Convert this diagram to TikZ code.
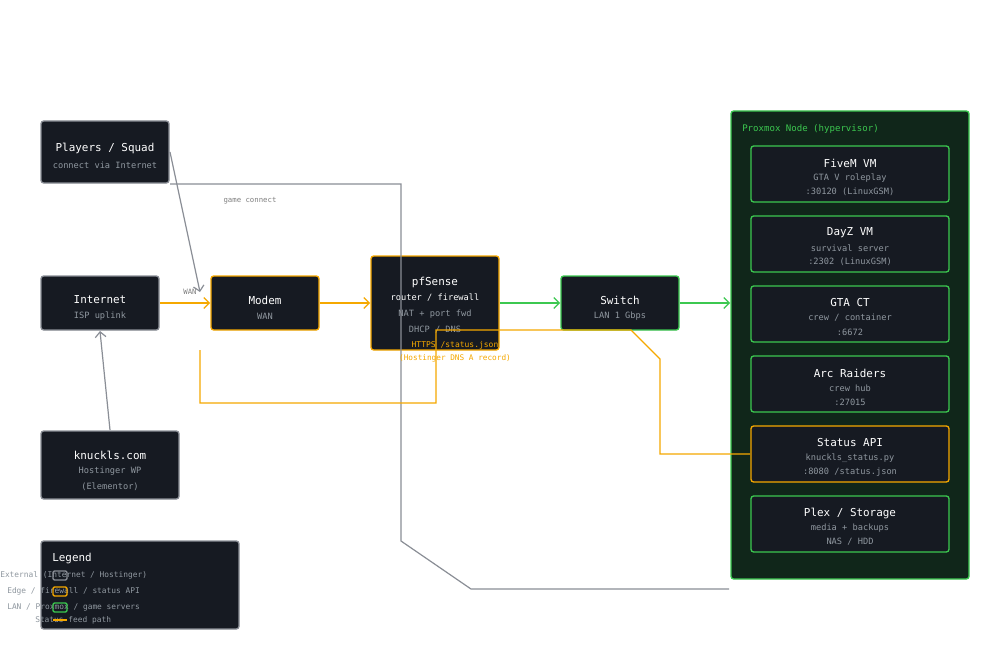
\documentclass[tikz,border=0pt]{standalone}
\usepackage{fontspec}
\setmainfont{DejaVu Sans Mono}
\usetikzlibrary{arrows.meta}
\definecolor{boxbg}{HTML}{161A22}
\definecolor{gbox}{HTML}{8A8E96}
\definecolor{obox}{HTML}{F5A800}
\definecolor{lbox}{HTML}{3CC850}
\definecolor{pxbg}{HTML}{10261A}
\definecolor{subtxt}{HTML}{9098A0}
\tikzset{
  box/.style={draw, line width=1pt, fill=boxbg, rounded corners=2pt, inner sep=0pt},
  ttl/.style={text=white, font=\fontsize{8.2}{9}\selectfont},
  sub/.style={text=subtxt, font=\fontsize{6.5}{7}\selectfont},
  leg/.style={text=subtxt, anchor=west, inner sep=0pt, font=\fontsize{5.9}{7}\selectfont},
  ext/.style={box, draw=gbox},
  edge/.style={box, draw=obox},
  lan/.style={box, draw=lbox},
  arr/.style={-{Straight Barb[length=4pt]}, line width=.9pt},
}
\begin{document}
\begin{tikzpicture}[x=0.75pt, y=-0.75pt]
\useasboundingbox[fill=white] (0,0) rectangle (1000,660);
% proxmox node
\draw[draw=lbox, fill=pxbg, line width=1pt, rounded corners=2pt] (731,111) rectangle (969,579);
\node[anchor=west, inner sep=0pt, text=lbox, font=\fontsize{6.8}{8}\selectfont] (pxlbl) at (742,129) {Proxmox Node (hypervisor)};
% boxes
\draw[ext] (41,121) rectangle (169,183);
\node[ttl] (players) at (105,148) {Players / Squad};
\node[sub] at (105,165) {connect via Internet};
\draw[ext] (41,276) rectangle (159,330);
\node[ttl] (internet) at (100,300) {Internet};
\node[sub] at (100,316) {ISP uplink};
\draw[ext] (41,431) rectangle (179,499);
\node[ttl] (knuckls) at (110,455) {knuckls.com};
\node[sub] at (110,471) {Hostinger WP};
\node[sub] at (110,487) {(Elementor)};
\draw[edge] (211,276) rectangle (319,330);
\node[ttl] (modem) at (265,300) {Modem};
\node[sub] at (265,316) {WAN};
\draw[edge] (371,256) rectangle (499,350);
\node[ttl] (pfsense) at (435,282) {pfSense};
\node[text=white, font=\fontsize{6.5}{7}\selectfont] at (435,298) {router / firewall};
\node[sub] at (435,314) {NAT + port fwd};
\node[sub] at (435,330) {DHCP / DNS};
\draw[lan] (561,276) rectangle (679,330);
\node[ttl] (switch) at (620,300) {Switch};
\node[sub] at (620,316) {LAN 1 Gbps};
\foreach \y/\t/\a/\b/\s in {146/{FiveM VM}/{GTA V roleplay}/{:30120 (LinuxGSM)}/lan,
  216/{DayZ VM}/{survival server}/{:2302 (LinuxGSM)}/lan,
  286/{GTA CT}/{crew / container}/{:6672}/lan,
  356/{Arc Raiders}/{crew hub}/{:27015}/lan,
  426/{Status API}/{knuckls\_status.py}/{:8080 /status.json}/edge,
  496/{Plex / Storage}/{media + backups}/{NAS / HDD}/lan} {
  \draw[\s] (751,\y) rectangle (949,\y+56);
  \node[ttl] at (850,\y+17) {\t};
  \node[sub] at (850,\y+32) {\a};
  \node[sub] at (850,\y+46) {\b};
}
\coordinate (api) at (750,454);
% legend
\draw[ext] (41,541) rectangle (239,629);
\node[ttl, anchor=west, inner sep=0pt] (legend) at (52,559) {Legend};
\node[leg] at (0,575) {External (Internet / Hostinger)};
\node[leg] at (7,591) {Edge / firewall / status API};
\node[leg] at (7,607) {LAN / Proxmox / game servers};
\node[leg] at (35,620) {Status feed path};
\draw[gbox, line width=1pt, rounded corners=1pt] (53,571) rectangle (67,580);
\draw[obox, line width=1pt, rounded corners=1pt] (53,587) rectangle (67,596);
\draw[lbox, line width=1pt, rounded corners=1pt] (53,603) rectangle (67,612);
\draw[obox, line width=1.5pt] (53,620) -- (67,620);
% connectors
\coordinate (pl1) at (170,152);
\coordinate (mdtop) at (200,292);
\draw[arr, gbox] (pl1) -- (mdtop);
\coordinate (pl2) at (170,184);
\coordinate (pxin) at (729,589);
\draw[gbox, line width=.9pt] (pl2) -- (401,184) -- (401,541) -- (471,589) -- (pxin);
\node[text=gray, font=\fontsize{5.5}{6}\selectfont] at (250,201) {game connect};
\draw[arr, gbox] (110,430) -- (100,331);
\draw[arr, obox] (160,303) -- (210,303);
\node[text=gray, font=\fontsize{5.5}{6}\selectfont] at (190,292) {WAN};
\draw[arr, obox] (320,303) -- (370,303);
\draw[arr, lbox] (500,303) -- (560,303);
\draw[arr, lbox] (680,303) -- (730,303);
\draw[obox, line width=1pt] (api) -- (660,454) -- (660,359) -- (631,330) -- (436,330) -- (436,403) -- (200,403) -- (200,350);
\node[text=obox, font=\fontsize{6}{7}\selectfont] at (455,345) {HTTPS /status.json};
\node[text=obox, font=\fontsize{5.8}{7}\selectfont] at (455,358) {(Hostinger DNS A record)};
\end{tikzpicture}
\end{document}
